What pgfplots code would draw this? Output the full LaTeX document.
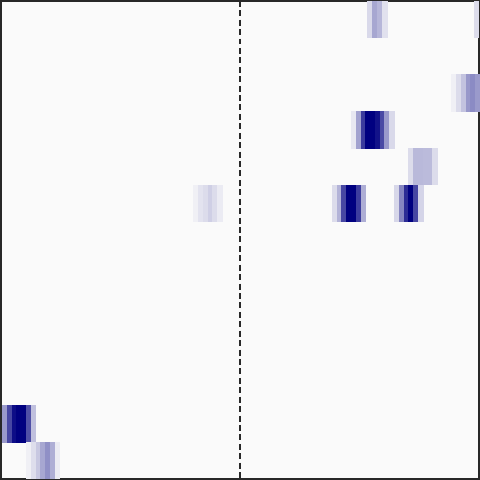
\documentclass[border=0pt]{standalone}
\usepackage{pgfplots}
\pgfplotsset{compat=1.18}
\usepackage{pgfplotstable}

\definecolor{bg}{RGB}{250,250,250}
\definecolor{frame}{RGB}{40,40,40}

% x = column centre, y = row centre (rows counted from the top), c = intensity
\pgfplotstableread{
x y c
76.95 0.5 0.13
78.0 0.5 0.33
79.05 0.5 0.27
80.1 0.5 0.10
99.15 0.5 0.12
94.5 2.5 0.04
95.5 2.5 0.12
96.5 2.5 0.22
97.5 2.5 0.39
98.5 2.5 0.44
99.5 2.5 0.38
73.5 3.5 0.07
74.5 3.5 0.35
75.5 3.5 0.76
76.5 3.5 1.00
77.5 3.5 1.00
78.5 3.5 0.92
79.5 3.5 0.70
80.5 3.5 0.38
81.5 3.5 0.13
85.5 4.5 0.12
86.5 4.5 0.26
87.5 4.5 0.26
88.5 4.5 0.25
89.5 4.5 0.25
90.5 4.5 0.12
40.5 5.5 0.04
41.5 5.5 0.09
42.5 5.5 0.12
43.5 5.5 0.17
44.5 5.5 0.12
45.5 5.5 0.06
69.5 5.5 0.12
70.5 5.5 0.28
71.5 5.5 0.71
72.5 5.5 1.00
73.5 5.5 1.00
74.5 5.5 0.75
75.5 5.5 0.30
82.5 5.5 0.14
83.5 5.5 0.46
84.5 5.5 0.82
85.5 5.5 1.00
86.5 5.5 0.71
87.5 5.5 0.15
0.5 11.5 0.38
1.5 11.5 0.71
2.5 11.5 0.94
3.5 11.5 1.00
4.5 11.5 1.00
5.5 11.5 0.68
6.5 11.5 0.23
5.5 12.5 0.04
6.5 12.5 0.11
7.5 12.5 0.20
8.5 12.5 0.33
9.5 12.5 0.42
10.5 12.5 0.30
11.5 12.5 0.06
}\cells

\begin{document}
\begin{tikzpicture}
\begin{axis}[
    width=360pt, height=360pt,
    scale only axis,
    xmin=-0.27, xmax=99.73,
    ymin=0, ymax=13,
    y dir=reverse,
    xtick=\empty, ytick=\empty,
    axis background/.style={fill=bg},
    axis line style={draw=frame, line width=1.2pt},
    colormap={heat}{rgb255=(250,250,250) rgb255=(0,0,128)},
    point meta min=0, point meta max=1,
]
\addplot[
    scatter, only marks,
    mark=square*, mark size=1.78pt,
    mark options={yscale=7.7, line width=0.1pt},
    scatter/use mapped color={draw=mapped color, fill=mapped color},
    point meta=explicit,
] table[x=x, y=y, meta=c] {\cells};

\addplot[frame, line width=1.3pt, dash pattern=on 4.5pt off 2.6pt]
    coordinates {(49.72,0) (49.72,13)};
\end{axis}
\end{tikzpicture}
\end{document}
